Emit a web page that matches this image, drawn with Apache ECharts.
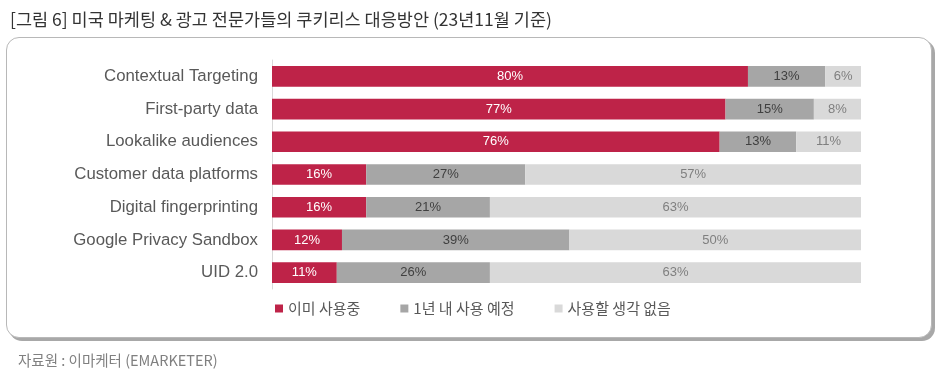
<!DOCTYPE html>
<html><head><meta charset="utf-8">
<script src="https://cdn.jsdelivr.net/npm/echarts@6/dist/echarts.min.js"></script>
<style>
html,body{margin:0;padding:0;background:#fff;}
#wrap{position:relative;width:940px;height:380px;overflow:hidden;}
#box{position:absolute;left:6px;top:37px;width:924px;height:299px;border:1px solid #b8b8b8;border-radius:13px;box-shadow:3px 3px 0 #a8a8a8;background:#fff;}
#chart{position:absolute;left:0;top:0;width:940px;height:380px;}
</style></head>
<body><div id="wrap"><div id="box"></div><div id="chart"></div></div>
<script>
var categories = ['Contextual Targeting','First-party data','Lookalike audiences','Customer data platforms','Digital fingerprinting','Google Privacy Sandbox','UID 2.0'];
var seriesNames = ['이미 사용중','1년 내 사용 예정','사용할 생각 없음'];
var alreadyUsing = [80,77,76,16,16,12,11];
var planning = [13,15,13,27,21,39,26];
var notPlanning = [6,8,11,57,63,50,63];
var titleText = '[그림 6] 미국 마케팅 & 광고 전문가들의 쿠키리스 대응방안 (23년11월 기준)';
var sourceText = '자료원 : 이마케터 (EMARKETER)';

var raw = [alreadyUsing, planning, notPlanning];
var totals = categories.map(function(c,i){return alreadyUsing[i]+planning[i]+notPlanning[i];});
var colors = ['#BE2348','#A6A6A6','#D9D9D9'];
var labelColors = ['#ffffff','#404040','#7F7F7F'];

var chart = echarts.init(document.getElementById('chart'), null, {renderer:'canvas'});
var series = raw.map(function(arr, k){
  return {
    name: seriesNames[k], type:'bar', stack:'s', barWidth:'63%',
    itemStyle:{color:colors[k]},
    label:{show:true, position:'inside', color:labelColors[k], fontSize:13, fontFamily:'Liberation Sans, Arial, sans-serif',
      formatter:function(p){return arr[p.dataIndex]+'%';}},
    data: arr.map(function(v,i){return v/totals[i]*100;})
  };
});
chart.setOption({
  animation:false,
  color:colors,
  title:[
    {text:titleText, left:5, top:6, textStyle:{fontSize:17.5, fontWeight:'normal', color:'#333', fontFamily:'Noto Sans CJK KR, sans-serif'}},
    {text:sourceText, left:13, top:348, textStyle:{fontSize:14.5, fontWeight:'normal', color:'#808080', fontFamily:'Noto Sans CJK KR, sans-serif'}}
  ],
  legend:{left:270, top:296, itemWidth:8, itemHeight:8, itemGap:40, icon:'rect',
    textStyle:{fontSize:15, color:'#595959', fontFamily:'Noto Sans CJK KR, sans-serif'}, data:seriesNames},
  grid:{left:272, right:79, top:60, bottom:91},
  xAxis:{type:'value', min:0, max:100, show:false},
  yAxis:{type:'category', inverse:true, data:categories,
    axisLine:{show:true, lineStyle:{color:'#D9D9D9'}}, axisTick:{show:false},
    axisLabel:{fontSize:16.8, color:'#595959', margin:14, fontFamily:'Liberation Sans, Arial, sans-serif'}},
  series:series
});
</script></body></html>
